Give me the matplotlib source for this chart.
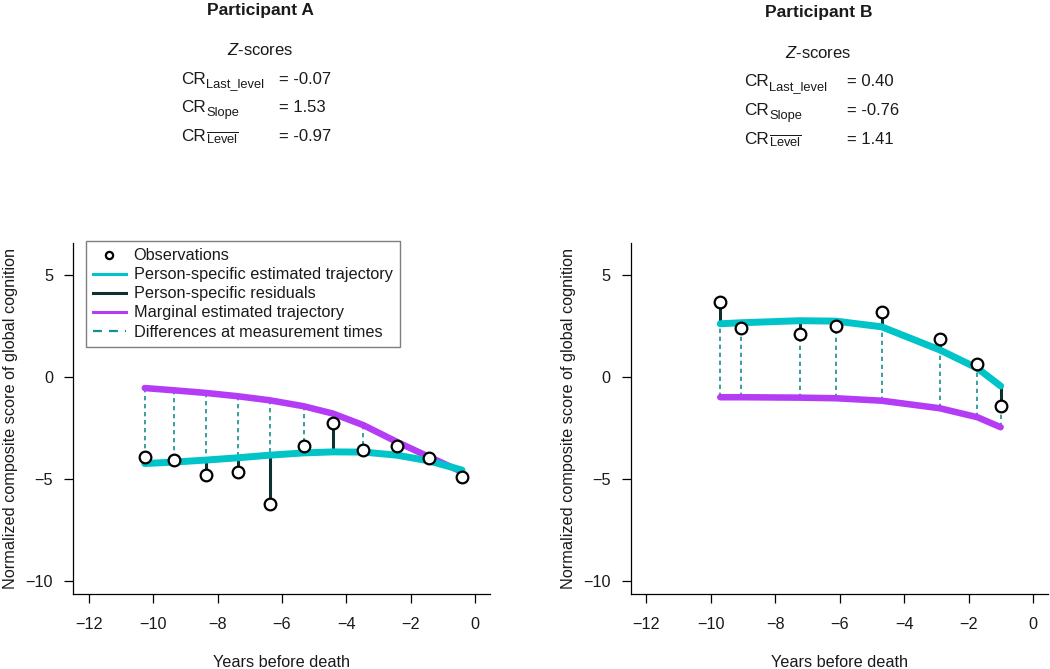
import matplotlib
matplotlib.use("Agg")
import matplotlib.pyplot as plt
from matplotlib.lines import Line2D

plt.rcParams['font.family'] = ['Liberation Sans', 'DejaVu Sans']
plt.rcParams['mathtext.fontset'] = 'custom'
plt.rcParams['mathtext.rm'] = 'Liberation Sans'
plt.rcParams['mathtext.it'] = 'Liberation Sans:italic'
plt.rcParams['mathtext.bf'] = 'Liberation Sans:bold'

# ---------------- data ----------------
# Participant A
timeA = [-10.26, -9.36, -8.36, -7.38, -6.38, -5.33, -4.42, -3.47, -2.43, -1.44, -0.41]
obsA = [-3.90, -4.06, -4.80, -4.64, -6.22, -3.38, -2.24, -3.57, -3.38, -3.98, -4.88]
personA = [-4.23, -4.16, -4.06, -3.95, -3.82, -3.71, -3.66, -3.67, -3.82, -4.10, -4.55]
marginalA = [-0.53, -0.64, -0.77, -0.93, -1.13, -1.42, -1.78, -2.35, -3.17, -3.90, -4.64]

# Participant B
timeB = [-9.71, -9.07, -7.25, -6.12, -4.70, -2.90, -1.73, -1.01]
obsB = [3.68, 2.41, 2.12, 2.52, 3.20, 1.89, 0.65, -1.41]
personB = [2.62, 2.67, 2.77, 2.75, 2.47, 1.34, 0.44, -0.43]
marginalB = [-0.98, -0.98, -1.00, -1.03, -1.15, -1.52, -1.96, -2.45]

cr_subscripts = ['Last_level', 'Slope', r'$\overline{\mathrm{Level}}$']
zA_values = ['= -0.07', '= 1.53', '= -0.97']
zB_values = ['= 0.40', '= -0.76', '= 1.41']

xticks = [-12, -10, -8, -6, -4, -2, 0]
yticks = [-10, -5, 0, 5]

legend_labels = ['Observations', 'Person-specific estimated trajectory',
                 'Person-specific residuals', 'Marginal estimated trajectory',
                 'Differences at measurement times']

# ---------------- style ----------------
C_PERSON = '#00C4C8'
C_MARG = '#B43CF5'
C_RESID = '#0E3030'
C_DIFF = '#16908F'
TXT = '#1a1a1a'
FS = 11.7

W, H = 1050, 669
fig = plt.figure(figsize=(W / 100, H / 100), dpi=100)

def px_axes(left, right, top, bottom):
    return [left / W, 1 - bottom / H, (right - left) / W, (bottom - top) / H]

axA = fig.add_axes(px_axes(73.3, 490, 243, 594.3))
axB = fig.add_axes(px_axes(631, 1048, 243, 594.3))


def draw_panel(ax, t, obs, person, marg):
    for ti, p, m in zip(t, person, marg):
        ax.plot([ti, ti], [m, p], color=C_DIFF, lw=1.2, linestyle=(0, (2.6, 2.2)), zorder=1)
    for ti, o, p in zip(t, obs, person):
        ax.plot([ti, ti], [o, p], color=C_RESID, lw=2.2, zorder=2, solid_capstyle='butt')
    ax.plot(t, marg, color=C_MARG, lw=4.7, solid_capstyle='round', solid_joinstyle='round', zorder=3)
    ax.plot(t, person, color=C_PERSON, lw=5.0, solid_capstyle='round', solid_joinstyle='round', zorder=4)
    ax.plot(t, obs, linestyle='none', marker='o', ms=8.4, mfc='white', mec='black', mew=1.6, zorder=5)

    ax.set_xlim(-12.48, 0.46)
    ax.set_ylim(-10.64, 6.58)
    ax.set_xticks(xticks)
    ax.set_yticks(yticks)
    for s in ['top', 'right']:
        ax.spines[s].set_visible(False)
    for s in ['left', 'bottom']:
        ax.spines[s].set_linewidth(0.9)
        ax.spines[s].set_color('black')
    ax.tick_params(direction='out', length=6.5, width=0.9, colors='black', labelsize=FS,
                   labelcolor=TXT)
    ax.tick_params(axis='x', pad=9.5)
    ax.tick_params(axis='y', pad=8)
    ax.set_xlabel('Years before death', fontsize=FS, color=TXT)
    ax.set_ylabel('Normalized composite score of global cognition', fontsize=FS, color=TXT)
    ax.xaxis.set_label_coords(0.5, -0.174)
    ax.yaxis.set_label_coords(-0.133, 0.5)


draw_panel(axA, timeA, obsA, personA, marginalA)
draw_panel(axB, timeB, obsB, personB, marginalB)

handles = [
    Line2D([], [], linestyle='none', marker='o', ms=5.2, mfc='white', mec='black', mew=1.6),
    Line2D([], [], color=C_PERSON, lw=2.2),
    Line2D([], [], color=C_RESID, lw=2.2),
    Line2D([], [], color=C_MARG, lw=2.2),
    Line2D([], [], color=C_DIFF, lw=1.6, linestyle=(0, (4.0, 3.2))),
]
leg = fig.legend(handles, legend_labels, loc='upper left',
                 bbox_to_anchor=(85.7 / W, 1 - 241 / H), bbox_transform=fig.transFigure,
                 fontsize=FS, frameon=True, fancybox=False, framealpha=1,
                 edgecolor='#7f7f7f', borderpad=0.45, labelspacing=0.25,
                 handlelength=2.0, handletextpad=0.5, borderaxespad=0)
leg.get_frame().set_linewidth(1.0)
for txt in leg.get_texts():
    txt.set_color(TXT)

fig.canvas.draw()
renderer = fig.canvas.get_renderer()


def header(cx, cr_x, eq_x, dy, title, values):
    fig.text(cx / W, 1 - (10 + dy) / H, title, fontsize=12.5, fontweight='bold',
             ha='center', va='center', color=TXT)
    fig.text(cx / W, 1 - (50 + dy) / H, r'$Z$-scores', fontsize=12,
             ha='center', va='center', color=TXT)
    rows = [84 + dy, 112.5 + dy, 141 + dy]
    for sub, val, base in zip(cr_subscripts, values, rows):
        t = fig.text(cr_x / W, 1 - base / H, 'CR', fontsize=12.3, ha='left',
                     va='baseline', color=TXT)
        ext = t.get_window_extent(renderer)
        fig.text(ext.x1 / W + 0.3 / W, 1 - (base + 3.5) / H, sub, fontsize=9.3, ha='left',
                 va='baseline', color=TXT)
        fig.text(eq_x / W, 1 - base / H, val, fontsize=12, ha='left', va='baseline', color=TXT)


header(260.5, 181, 279, 0, 'Participant A', zA_values)
header(818.5, 744, 847, 2.5, 'Participant B', zB_values)

fig.savefig('out.png', dpi=100)
